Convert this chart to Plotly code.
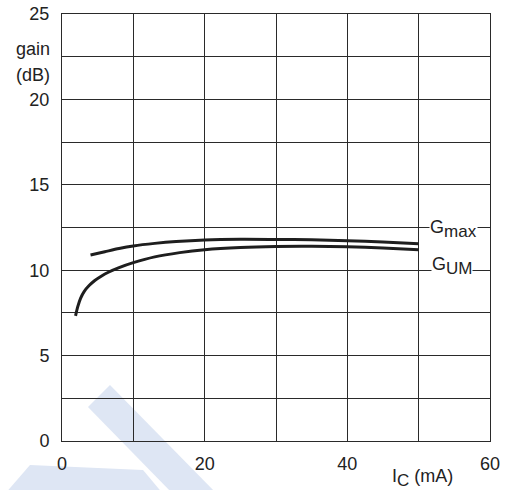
import plotly.graph_objects as go

# Data
gmax_ic = [4, 6, 8, 10, 13, 16, 20, 25, 30, 35, 40, 45, 50]
gmax_db = [10.89, 11.08, 11.27, 11.42, 11.57, 11.68, 11.77, 11.81, 11.80, 11.78, 11.73, 11.65, 11.55]

gum_ic = [1.9, 2.2, 2.6, 3.1, 3.8, 4.6, 5.5, 6.5, 8, 10, 13, 16.5, 20, 25, 30, 35, 40, 45, 50]
gum_db = [7.33, 7.85, 8.35, 8.75, 9.1, 9.4, 9.65, 9.88, 10.15, 10.44, 10.78, 11.03, 11.2, 11.33, 11.39, 11.4, 11.37, 11.3, 11.2]

x_ticks = [0, 20, 40, 60]
y_ticks = [0, 5, 10, 15, 20, 25]

FONT = "Arial, Liberation Sans, sans-serif"
LINE = "#1e1e1e"
GRID = "#2a2a2a"
TXT = "#222"
FS = 18

fig = go.Figure()
fig.add_trace(go.Scatter(x=gmax_ic, y=gmax_db, mode="lines",
                         line=dict(color=LINE, width=3, shape="spline", smoothing=0.8), showlegend=False))
fig.add_trace(go.Scatter(x=gum_ic, y=gum_db, mode="lines",
                         line=dict(color=LINE, width=3, shape="spline", smoothing=0.8), showlegend=False))

# Plot area geometry for decoration (pixels)
L, R, T, B = 62, 490, 14, 441


def px(x, y):
    return (x - L) / (R - L), (B - y) / (B - T)


def poly(pts):
    s = ""
    for i, (x, y) in enumerate(pts):
        a, b = px(x, y)
        s += ("M" if i == 0 else "L") + f"{a:.4f},{b:.4f} "
    return s + "Z"


# Light watermark shapes (decorative)
wm = "rgba(222,230,244,1)"
shapes = [
    dict(type="path", xref="paper", yref="paper", layer="below", line=dict(width=0), fillcolor=wm,
         path=poly([(88, 407), (110, 385), (218, 495), (174, 495)])),
    dict(type="path", xref="paper", yref="paper", layer="below", line=dict(width=0), fillcolor=wm,
         path=poly([(30, 465), (143, 470), (164, 495), (4, 495)])),
]

SUB = "<sub><span style='font-size:17px'>{}</span></sub>"

annotations = [
    dict(text="G" + SUB.format("max"), x=0.9, y=12.5, xref="paper", yref="y", showarrow=False,
         font=dict(family=FONT, size=FS, color=TXT), bgcolor="white", borderpad=0,
         xanchor="left", yanchor="middle", xshift=-18, yshift=-1),
    dict(text="G" + SUB.format("UM"), x=0.9, y=10, xref="paper", yref="y", showarrow=False,
         font=dict(family=FONT, size=FS, color=TXT), bgcolor="white", borderpad=0,
         xanchor="left", yanchor="middle", xshift=-16, yshift=4),
    dict(text="gain", x=0, y=1, xref="paper", yref="paper", showarrow=False,
         font=dict(family=FONT, size=FS, color=TXT), xanchor="right", yanchor="middle",
         xshift=-10, yshift=-35),
    dict(text="(dB)", x=0, y=1, xref="paper", yref="paper", showarrow=False,
         font=dict(family=FONT, size=FS, color=TXT), xanchor="right", yanchor="middle",
         xshift=-10, yshift=-61),
    dict(text="I" + SUB.format("C") + " (mA)", x=0.8, y=0, xref="paper", yref="paper", showarrow=False,
         font=dict(family=FONT, size=FS, color=TXT), xanchor="left", yanchor="middle",
         xshift=-14.4, yshift=-37),
]

fig.update_layout(
    width=506, height=490,
    margin=dict(l=L, r=506 - R, t=T, b=490 - B, autoexpand=False),
    paper_bgcolor="white", plot_bgcolor="white",
    shapes=shapes, annotations=annotations,
    xaxis=dict(range=[0, 60], tickvals=x_ticks, ticktext=[str(v) for v in x_ticks],
               showgrid=True, gridcolor=GRID, gridwidth=1, automargin=False,
               minor=dict(dtick=10, showgrid=True, gridcolor=GRID, gridwidth=1, ticks=""),
               showline=True, linecolor=GRID, linewidth=1, mirror=True,
               ticks="", zeroline=False, ticklabelstandoff=6,
               tickfont=dict(family=FONT, size=FS, color=TXT)),
    yaxis=dict(range=[0, 25], tickvals=y_ticks, ticktext=[str(v) for v in y_ticks],
               showgrid=True, gridcolor=GRID, gridwidth=1, automargin=False,
               minor=dict(dtick=2.5, showgrid=True, gridcolor=GRID, gridwidth=1, ticks=""),
               showline=True, linecolor=GRID, linewidth=1, mirror=True,
               ticks="", zeroline=False, ticklabelstandoff=8,
               tickfont=dict(family=FONT, size=FS, color=TXT)),
)

fig.write_html("out.html", config={"displayModeBar": False},
               post_script="document.body.style.margin='0';document.body.style.padding='0';document.body.style.overflow='hidden';")
